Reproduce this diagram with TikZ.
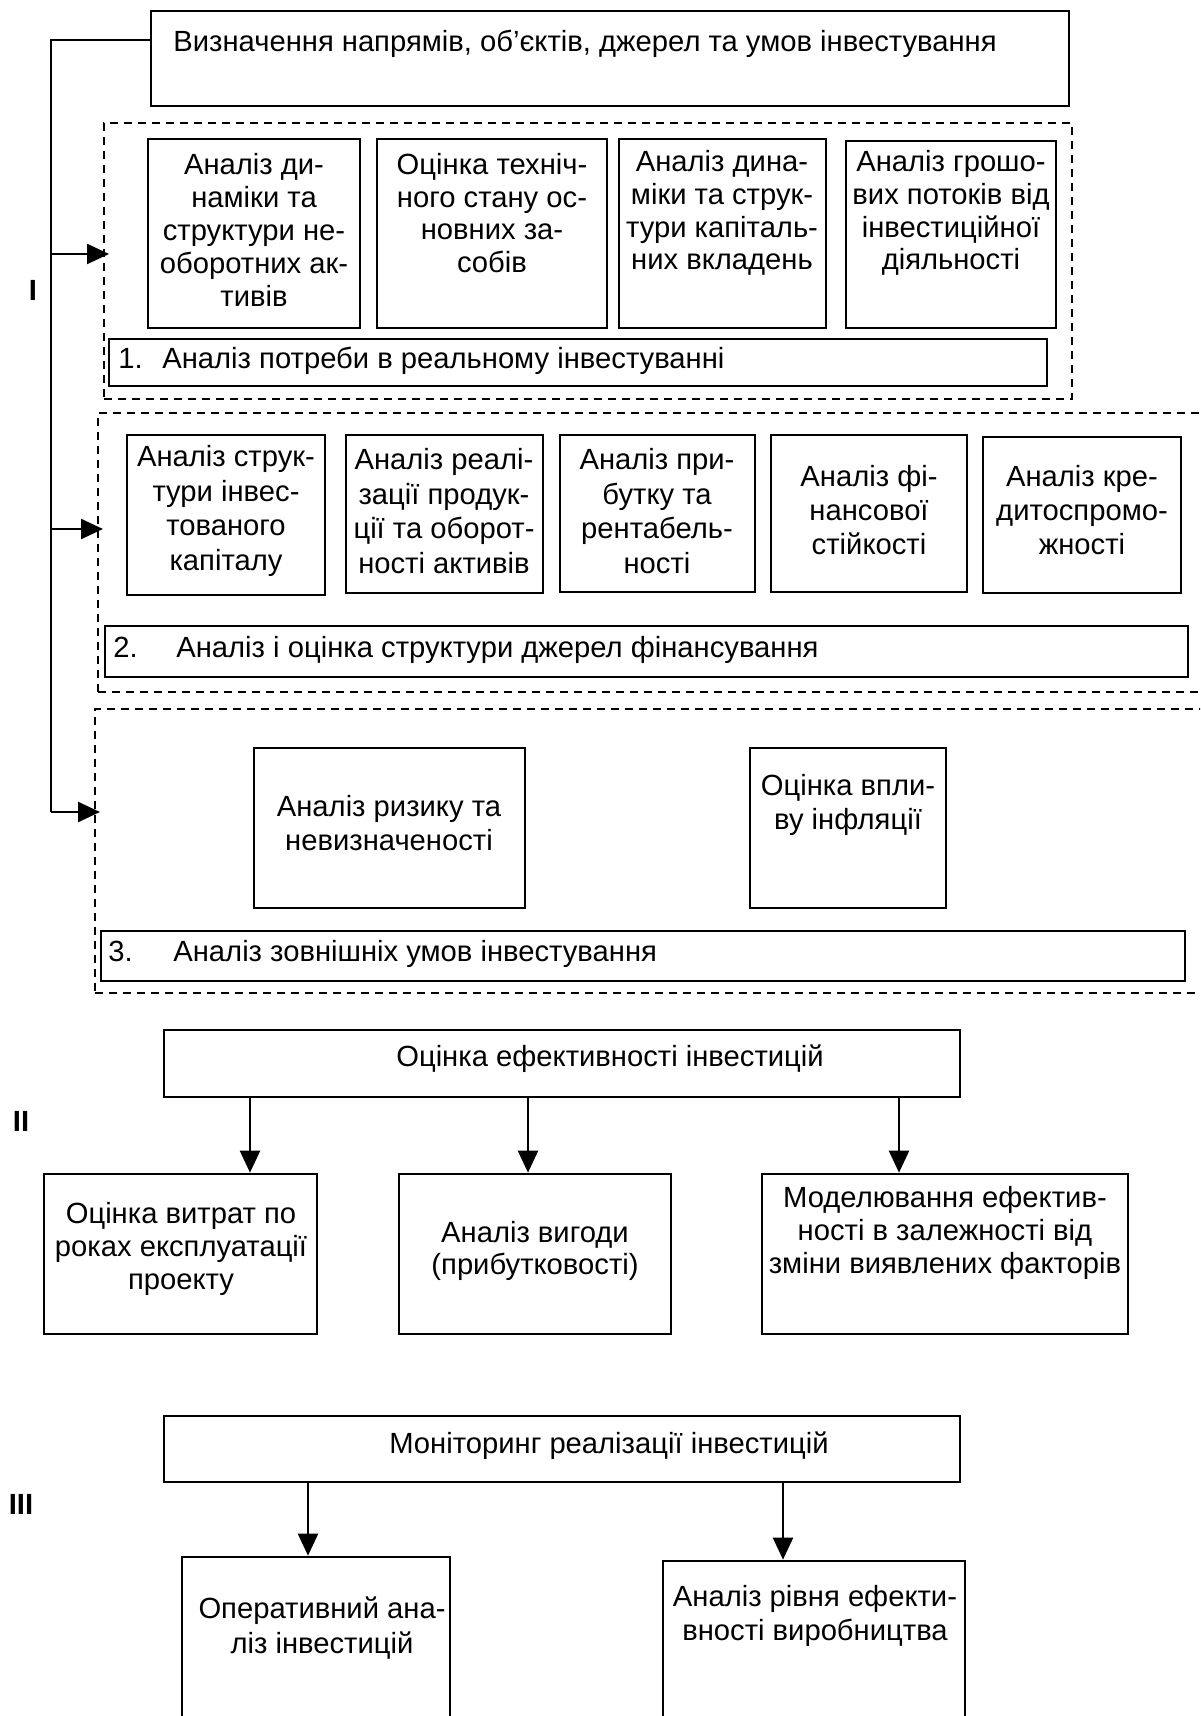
\documentclass[tikz,border=0pt]{standalone}
\usepackage{fontspec}
\setmainfont{Liberation Sans}
\usetikzlibrary{arrows.meta,fit,calc}
\newcommand\fsz{\fontsize{14.6pt}{16.4pt}\selectfont}
\newcommand\fszb{\fontsize{14.6pt}{17.2pt}\selectfont}
\begin{document}
\begin{tikzpicture}[x=0.5pt,y=-0.5pt,
  bx/.style={draw, line width=1.35pt, inner sep=0pt},
  dbox/.style={draw, line width=1pt, dash pattern=on 4pt off 3pt},
  txt/.style={font=\fsz, align=center, inner sep=0pt},
  txtb/.style={font=\fszb, align=center, inner sep=0pt},
  rom/.style={font=\fsz\bfseries, inner sep=0pt},
  conn/.style={line width=1.2pt},
  arr/.style={line width=1.2pt, -{Triangle[length=11pt,width=10pt]}}]
\clip (0,0) rectangle (1200,1716);
% top box
\node[bx, fit={(151,11) (1069,106)}] (top) {};
\node[txt, anchor=west] (toptx) at (173,44) {Визначення напрямів, об’єктів, джерел та умов інвестування};
% left connector
\coordinate (j0) at (51,40);
\coordinate (j1) at (51,254);
\coordinate (j2) at (51,529);
\coordinate (j3) at (51,812);
\draw[conn] (top.west |- j0) -- (j0) -- (j3);
% group 1
\node[dbox, inner sep=0pt, fit={(104,123) (1072,399)}] (g1) {};
\node[bx, fit={(148,139) (360,328)}] (b1) {};
\node[bx, fit={(377,139) (607,328)}] (b2) {};
\node[bx, fit={(619,139) (826,328)}] (b3) {};
\node[bx, fit={(846,141) (1056,328)}] (b4) {};
\node[txt] (b1t) at (254,230) {Аналіз ди-\\наміки та\\структури не-\\оборотних ак-\\тивів};
\node[txt] (b2t) at (492,213) {Оцінка техніч-\\ного стану ос-\\новних за-\\собів};
\node[txt] (b3t) at (722,213) {Аналіз дина-\\міки та струк-\\тури капіталь-\\них вкладень};
\node[txt] (b4t) at (951,213) {Аналіз грошо-\\вих потоків від\\інвестиційної\\діяльності};
\node[bx, fit={(109,339) (1047,386)}] (bar1) {};
\node[txt, anchor=west] (bar1t) at (118,361) {\makebox[22pt][l]{1.}Аналіз потреби в реальному інвестуванні};
% group 2
\node[dbox, inner sep=0pt, fit={(98,413) (1230,692)}] (g2) {};
\node[bx, fit={(127,435) (325,595)}] (c1) {};
\node[bx, fit={(346,435) (543,593)}] (c2) {};
\node[bx, fit={(560,435) (755,592)}] (c3) {};
\node[bx, fit={(771,435) (967,592)}] (c4) {};
\node[bx, fit={(983,437) (1181,593)}] (c5) {};
\node[txtb] (c1t) at (226,511) {Аналіз струк-\\тури інвес-\\тованого\\капіталу};
\node[txtb] (c2t) at (444,511) {Аналіз реалі-\\зації продук-\\ції та оборот-\\ності активів};
\node[txtb] (c3t) at (657,511) {Аналіз при-\\бутку та\\рентабель-\\ності};
\node[txtb] (c4t) at (869,510) {Аналіз фі-\\нансової\\стійкості};
\node[txtb] (c5t) at (1082,510) {Аналіз кре-\\дитоспромо-\\жності};
\node[bx, fit={(105,626) (1188,677)}] (bar2) {};
\node[txt, anchor=west] (bar2t) at (113,650) {\makebox[31.5pt][l]{2.}Аналіз і оцінка структури джерел фінансування};
% group 3
\node[dbox, inner sep=0pt, fit={(95,709) (1230,993)}] (g3) {};
\node[bx, fit={(254,748) (525,908)}] (d1) {};
\node[bx, fit={(750,748) (946,908)}] (d2) {};
\node[txtb] (d1t) at (389,823) {Аналіз ризику та\\невизначеності};
\node[txtb] (d2t) at (848,805) {Оцінка впли-\\ву інфляції};
\node[bx, fit={(101,931) (1185,981)}] (bar3) {};
\node[txt, anchor=west] (bar3t) at (108,954) {\makebox[32.5pt][l]{3.}Аналіз зовнішніх умов інвестування};
% arrows into groups
\draw[arr] (j1) -- ([xshift=3pt]g1.west |- j1);
\draw[arr] (j2) -- ([xshift=3pt]g2.west |- j2);
\draw[arr] (j3) -- ([xshift=3pt]g3.west |- j3);
\node[rom] (r1) at (33,290) {I};
% stage II
\node[bx, fit={(164,1030) (960,1097)}] (eff) {};
\node[txt] (efft) at (610,1059) {Оцінка ефективності інвестицій};
\node[bx, fit={(44,1174) (317,1334)}] (e1) {};
\node[bx, fit={(399,1174) (671,1334)}] (e2) {};
\node[bx, fit={(762,1174) (1128,1334)}] (e3) {};
\node[txt] (e1t) at (181,1249) {Оцінка витрат по\\роках експлуатації\\проекту};
\node[txt] (e2t) at (535,1251) {Аналіз вигоди\\(прибутковості)};
\node[txt] (e3t) at (945,1233) {Моделювання ефектив-\\ності в залежності від\\зміни виявлених факторів};
\coordinate (ax1) at (250,0);
\coordinate (ax2) at (528,0);
\coordinate (ax3) at (899,0);
\draw[arr] (eff.south -| ax1) -- (e1.north -| ax1);
\draw[arr] (eff.south -| ax2) -- (e2.north -| ax2);
\draw[arr] (eff.south -| ax3) -- (e3.north -| ax3);
\node[rom] (r2) at (21,1121) {II};
% stage III
\node[bx, fit={(164,1416) (960,1482)}] (mon) {};
\node[txt] (mont) at (609,1446) {Моніторинг реалізації інвестицій};
\node[bx, fit={(182,1557) (450,1760)}] (f1) {};
\node[bx, fit={(663,1561) (965,1760)}] (f2) {};
\node[txtb] (f1t) at (322,1628) {Оперативний ана-\\ліз інвестицій};
\node[txtb] (f2t) at (815,1616) {Аналіз рівня ефекти-\\вності виробництва};
\coordinate (bx1) at (308,0);
\coordinate (bx2) at (783,0);
\draw[arr] (mon.south -| bx1) -- (f1.north -| bx1);
\draw[arr] (mon.south -| bx2) -- (f2.north -| bx2);
\node[rom] (r3) at (21,1504) {III};
\end{tikzpicture}
\end{document}
